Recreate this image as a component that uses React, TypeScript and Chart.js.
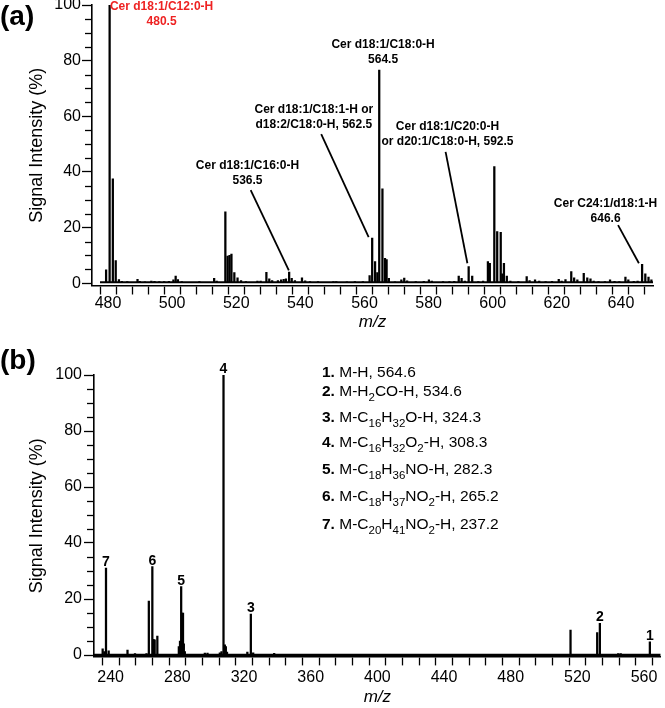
import React, { useEffect, useRef } from 'react';
import { Chart, registerables } from 'chart.js';

Chart.register(...registerables);

const FONT = '"Liberation Sans", Arial, Helvetica, sans-serif';

// ---------------- Panel (a): full MS spectrum ----------------
const aMz = [
  479.4, 480.5, 481.5, 482.4, 483.4, 484.3, 486.0, 489.2, 489.9, 491.5,
  493.5, 494.5, 496.0, 497.5, 499.0, 500.4, 501.1, 501.8, 503.0, 508.5,
  513.1, 513.9, 516.6, 517.3, 517.9, 518.5, 519.4, 520.4, 521.5, 523.0,
  526.6, 527.6, 529.4, 530.3, 531.2, 533.0, 534.0, 534.8, 535.5, 536.5,
  537.3, 538.3, 540.5, 541.5, 543.0, 545.5, 550.3, 551.2, 554.5, 557.0,
  559.5, 561.6, 562.4, 563.3, 564.0, 564.6, 565.6, 566.4, 566.9, 567.6,
  569.5, 571.5, 572.4, 573.3, 576.0, 578.5, 580.1, 581.0, 584.5, 586.5,
  588.0, 589.4, 590.3, 591.3, 592.5, 593.6, 595.5, 597.0, 598.5, 599.1,
  600.5, 601.4, 602.5, 603.0, 603.5, 604.4, 605.5, 608.0, 610.6, 611.5,
  613.2, 614.5, 616.5, 618.5, 620.6, 621.5, 622.7, 624.5, 625.4, 626.4,
  628.4, 629.5, 630.5, 631.5, 633.0, 635.0, 636.6, 638.0, 639.5, 641.4,
  642.3, 644.0, 645.2, 646.6, 647.6, 648.6, 649.5,
];
const aIntensity = [
  4.8, 100, 37.5, 8.2, 1.3, 0.7, 0.6, 1.4, 0.7, 0.5,
  0.8, 0.7, 0.6, 0.6, 0.7, 1.2, 2.6, 1.3, 0.6, 0.6,
  1.8, 0.8, 25.7, 9.8, 10.0, 10.5, 3.8, 2.0, 1.0, 0.6,
  0.8, 0.8, 3.9, 1.6, 1.0, 1.0, 1.2, 1.4, 1.6, 4.0,
  1.8, 1.0, 2.0, 0.9, 0.6, 0.6, 0.6, 0.6, 0.5, 0.6,
  0.6, 2.8, 16.2, 7.8, 3.8, 76.6, 33.9, 9.0, 8.5, 1.8,
  0.5, 1.2, 1.9, 0.9, 0.6, 0.7, 1.2, 0.8, 0.6, 0.6,
  0.7, 2.6, 1.8, 0.8, 6.0, 2.6, 0.6, 0.8, 7.8, 7.2,
  41.9, 18.6, 18.3, 3.4, 7.2, 2.6, 0.8, 0.6, 2.4, 1.0,
  1.2, 0.8, 0.6, 0.7, 1.4, 0.8, 1.3, 4.2, 2.0, 1.2,
  3.6, 2.0, 1.6, 0.8, 0.6, 0.6, 1.2, 0.7, 0.6, 2.2,
  1.2, 0.7, 0.8, 6.8, 3.4, 2.2, 1.2,
];
const aBaselineMz = [477.5, 650];
const aBaselineInt = [0.4, 0.4];

const aXLabels = [480, 500, 520, 540, 560, 580, 600, 620, 640];
const aXRange = [475, 650];
const aXMinorStep = 5;

// annotations of panel (a)
const aAnnText = [
  ['Cer d18:1/C12:0-H', '480.5'],
  ['Cer d18:1/C16:0-H', '536.5'],
  ['Cer d18:1/C18:1-H or', 'd18:2/C18:0-H, 562.5'],
  ['Cer d18:1/C18:0-H', '564.5'],
  ['Cer d18:1/C20:0-H', 'or d20:1/C18:0-H, 592.5'],
  ['Cer C24:1/d18:1-H', '646.6'],
];
const aAnnMz = [496.7, 523.5, 544.2, 565.8, 585.9, 635.2];
const aAnnInt = [99.3, 42.2, 62.3, 85.6, 56.3, 28.5];
const aAnnColor = ['#ee2222', '#000', '#000', '#000', '#000', '#000'];
// pointer lines: [fromMz, fromInt, toMz, toInt]
const aPointers: (number[] | null)[] = [
  null,
  [524.5, 33.5, 536.4, 4.6],
  [546.5, 53.6, 561.3, 16.6],
  null,
  [585.3, 47.2, 592.1, 7.2],
  [639.1, 20.9, 645.6, 7.2],
];

// ---------------- Panel (b): MS/MS spectrum ----------------
const bMz = [
  235.2, 236.2, 237.2, 238.8, 250.1, 254.6, 261.5, 262.9, 265.0, 265.7,
  266.4, 268.0, 280.9, 281.6, 282.3, 282.9, 283.4, 283.9, 284.5, 296.5,
  298.1, 305.5, 306.5, 307.7, 308.5, 309.1, 309.8, 322.0, 324.1, 325.5,
  338.1, 515.9, 531.9, 533.5, 544.5, 546.0, 563.5,
];
const bIntensity = [
  2.2, 1.2, 31.0, 1.5, 1.8, 0.5, 0.5, 19.3, 31.6, 5.6,
  5.4, 6.8, 3.0, 5.0, 24.4, 15.0, 15.0, 4.0, 1.2, 0.7,
  0.7, 0.8, 1.2, 100, 3.6, 3.0, 1.0, 1.0, 14.6, 0.8,
  0.6, 8.9, 8.0, 11.3, 0.5, 0.5, 4.7,
];
const bBaselineMz = [230, 570];
const bBaselineInt = [0, 0];

const bXLabels = [240, 280, 320, 360, 400, 440, 480, 520, 560];
const bXRange = [230, 570];
const bXMinorStep = 10;

const bPeakNums = ['7', '6', '5', '4', '3', '2', '1'];
const bPeakMz = [237.2, 265.0, 282.3, 307.7, 324.1, 533.5, 563.5];
const bPeakInt = [31.0, 31.6, 24.4, 100, 14.6, 11.3, 4.7];

// legend of fragments: [text, kind] with kind b=bold, n=normal, s=subscript
const bLegend: [string, string][][] = [
  [['1.', 'b'], [' M-H, 564.6', 'n']],
  [['2.', 'b'], [' M-H', 'n'], ['2', 's'], ['CO-H, 534.6', 'n']],
  [['3.', 'b'], [' M-C', 'n'], ['16', 's'], ['H', 'n'], ['32', 's'], ['O-H, 324.3', 'n']],
  [['4.', 'b'], [' M-C', 'n'], ['16', 's'], ['H', 'n'], ['32', 's'], ['O', 'n'], ['2', 's'], ['-H, 308.3', 'n']],
  [['5.', 'b'], [' M-C', 'n'], ['18', 's'], ['H', 'n'], ['36', 's'], ['NO-H, 282.3', 'n']],
  [['6.', 'b'], [' M-C', 'n'], ['18', 's'], ['H', 'n'], ['37', 's'], ['NO', 'n'], ['2', 's'], ['-H, 265.2', 'n']],
  [['7.', 'b'], [' M-C', 'n'], ['20', 's'], ['H', 'n'], ['41', 's'], ['NO', 'n'], ['2', 's'], ['-H, 237.2', 'n']],
];

// shared y axis
const yLabels = [0, 20, 40, 60, 80, 100];
const yMinorStep = 5;

// ---------------- helpers ----------------
function stepTicks(lo: number, hi: number, step: number) {
  const t: { value: number }[] = [];
  for (let v = lo; v <= hi + 1e-9; v += step) t.push({ value: Math.round(v * 1000) / 1000 });
  return t;
}

function xScale(range: number[], minor: number, labels: number[], o: any) {
  return {
    type: 'linear',
    min: range[0],
    max: range[1],
    offset: false,
    afterBuildTicks: (s: any) => { s.ticks = stepTicks(range[0], range[1], minor); },
    afterFit: (s: any) => { s.height = o.height; s.paddingLeft = 0; s.paddingRight = 0; },
    ticks: {
      autoSkip: false, maxRotation: 0, minRotation: 0, padding: o.pad, color: '#000',
      font: { family: FONT, size: 16 },
      callback: (v: number) => (labels.includes(v) ? String(v) : ''),
    },
    grid: { drawOnChartArea: false, drawTicks: true, tickLength: o.tickLen, tickColor: '#000', tickWidth: 1.3 },
    border: { display: true, color: '#000', width: 1.6 },
    title: {
      display: true, text: 'm/z', color: '#000',
      font: { family: FONT, size: 17, style: 'italic' },
      padding: { top: 0, bottom: o.titlePad },
    },
  };
}

function yScale(min: number, o: any) {
  return {
    type: 'linear',
    min,
    max: 100,
    afterBuildTicks: (s: any) => { s.ticks = stepTicks(0, 100, yMinorStep); },
    afterFit: (s: any) => { s.width = o.width; s.paddingTop = 0; s.paddingBottom = 0; },
    ticks: {
      autoSkip: false, padding: o.pad, color: '#000',
      font: { family: FONT, size: 16 },
      callback: (v: number) => (yLabels.includes(v) ? String(v) : ''),
    },
    grid: {
      drawOnChartArea: false, drawTicks: true, tickLength: 10, tickWidth: 1.3,
      tickColor: (ctx: any) => (ctx.tick && yLabels.includes(ctx.tick.value) ? '#000' : 'rgba(0,0,0,0)'),
    },
    border: { display: true, color: '#000', width: 1.6 },
    title: {
      display: true, text: 'Signal Intensity (%)', color: '#000',
      font: { family: FONT, size: 18 },
      padding: { top: o.titlePad, bottom: 0 },
    },
  };
}

// shorter minor ticks on the intensity axis
const minorYTicks = {
  id: 'minorYTicks',
  afterDraw(chart: any) {
    const { ctx, scales: { y }, chartArea } = chart;
    ctx.save();
    ctx.strokeStyle = '#000';
    ctx.lineWidth = 1.3;
    stepTicks(0, 100, yMinorStep).forEach(({ value }) => {
      if (yLabels.includes(value)) return;
      const py = Math.round(y.getPixelForValue(value)) + 0.5;
      ctx.beginPath();
      ctx.moveTo(chartArea.left - 7, py);
      ctx.lineTo(chartArea.left, py);
      ctx.stroke();
    });
    ctx.restore();
  },
};

const annotA = {
  id: 'annotA',
  afterDraw(chart: any) {
    const { ctx, scales: { x, y } } = chart;
    ctx.save();
    ctx.strokeStyle = '#000';
    ctx.lineWidth = 1.8;
    aPointers.forEach((p) => {
      if (!p) return;
      ctx.beginPath();
      ctx.moveTo(x.getPixelForValue(p[0]), y.getPixelForValue(p[1]));
      ctx.lineTo(x.getPixelForValue(p[2]), y.getPixelForValue(p[3]));
      ctx.stroke();
    });
    ctx.font = `bold 12px ${FONT}`;
    ctx.textAlign = 'center';
    ctx.textBaseline = 'middle';
    aAnnText.forEach((lines, i) => {
      ctx.fillStyle = aAnnColor[i];
      const cx = x.getPixelForValue(aAnnMz[i]);
      const cy = y.getPixelForValue(aAnnInt[i]);
      lines.forEach((t, j) => ctx.fillText(t, cx, cy + j * 15));
    });
    ctx.fillStyle = '#000';
    ctx.font = `bold 28px ${FONT}`;
    ctx.textAlign = 'left';
    ctx.fillText('(a)', 0, 17);
    ctx.restore();
  },
};

const annotB = {
  id: 'annotB',
  afterDraw(chart: any) {
    const { ctx, scales: { x, y }, chartArea } = chart;
    ctx.save();
    ctx.fillStyle = '#000';
    ctx.font = `bold 14px ${FONT}`;
    ctx.textAlign = 'center';
    ctx.textBaseline = 'alphabetic';
    bPeakNums.forEach((n, i) => {
      ctx.fillText(n, x.getPixelForValue(bPeakMz[i]), y.getPixelForValue(bPeakInt[i]) - 2);
    });
    // fragment legend
    const lineOffsets = [0, 18.3, 45, 70, 96.7, 123.3, 151.7];
    const left = chartArea.left + 228;
    const firstBase = chartArea.top - 3.3 + 5.5;
    ctx.textAlign = 'left';
    bLegend.forEach((segs, i) => {
      let cx = left;
      const base = firstBase + lineOffsets[i];
      segs.forEach(([t, k]) => {
        if (k === 'b') ctx.font = `bold 15.5px ${FONT}`;
        else if (k === 's') ctx.font = `11.5px ${FONT}`;
        else ctx.font = `15.5px ${FONT}`;
        ctx.fillText(t, cx, k === 's' ? base + 5 : base);
        cx += ctx.measureText(t).width;
      });
    });
    ctx.font = `bold 28px ${FONT}`;
    ctx.textBaseline = 'middle';
    ctx.fillText('(b)', 0, 21);
    ctx.restore();
  },
};

function barData(mz: number[], val: number[]) {
  return mz.map((m, i) => ({ x: m, y: val[i] }));
}

export default function App() {
  const refA = useRef<HTMLCanvasElement>(null);
  const refB = useRef<HTMLCanvasElement>(null);

  useEffect(() => {
    const chartA = new Chart(refA.current as HTMLCanvasElement, {
      type: 'bar',
      data: {
        datasets: [
          { type: 'bar', data: barData(aMz, aIntensity), backgroundColor: '#000', barThickness: 1.6, grouped: false, order: 1 } as any,
          { type: 'line', data: barData(aBaselineMz, aBaselineInt), borderColor: '#000', borderWidth: 2, pointRadius: 0, order: 2 } as any,
        ],
      },
      options: {
        responsive: false,
        animation: false,
        events: [],
        layout: { padding: { left: 0, right: 12, top: 5, bottom: 0 } },
        plugins: { legend: { display: false }, tooltip: { enabled: false } },
        scales: {
          x: xScale(aXRange, aXMinorStep, aXLabels, { height: 54.5, pad: -1, tickLen: 9, titlePad: 8 }),
          y: yScale(-0.8, { width: 92, pad: 1, titlePad: 26.2 }),
        } as any,
      },
      plugins: [minorYTicks, annotA],
    });

    const chartB = new Chart(refB.current as HTMLCanvasElement, {
      type: 'bar',
      data: {
        datasets: [
          { type: 'bar', data: barData(bMz, bIntensity), backgroundColor: '#000', barThickness: 1.6, grouped: false, order: 1 } as any,
          { type: 'line', data: barData(bBaselineMz, bBaselineInt), borderColor: '#000', borderWidth: 2.5, pointRadius: 0, order: 2 } as any,
        ],
      },
      options: {
        responsive: false,
        animation: false,
        events: [],
        layout: { padding: { left: 0, right: 4.3, top: 35, bottom: 0 } },
        plugins: { legend: { display: false }, tooltip: { enabled: false } },
        scales: {
          x: xScale(bXRange, bXMinorStep, bXLabels, { height: 51.6, pad: 3, tickLen: 9, titlePad: 0.8 }),
          y: yScale(-0.5, { width: 94, pad: 2, titlePad: 26.2 }),
        } as any,
      },
      plugins: [minorYTicks, annotB],
    });

    return () => {
      chartA.destroy();
      chartB.destroy();
    };
  }, []);

  return (
    <div style={{ position: 'absolute', left: 0, top: 0, width: 665, height: 708, background: '#fff' }}>
      <canvas ref={refA} width={665} height={340} style={{ position: 'absolute', left: 0, top: 0, width: 665, height: 340 }} />
      <canvas ref={refB} width={665} height={368} style={{ position: 'absolute', left: 0, top: 340, width: 665, height: 368 }} />
    </div>
  );
}
